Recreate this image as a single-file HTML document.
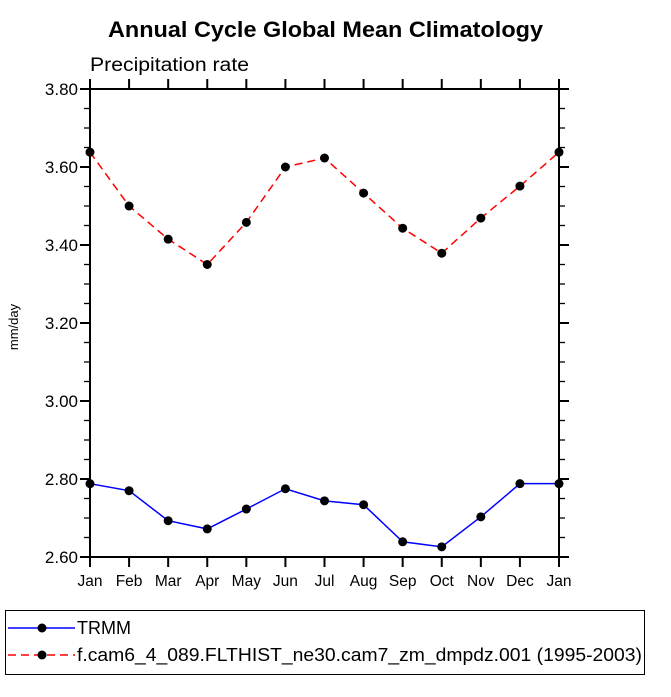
<!DOCTYPE html>
<html><head><meta charset="utf-8"><style>
html,body{margin:0;padding:0;background:#fff;}
svg text{font-family:"Liberation Sans",Helvetica,sans-serif;}
</style></head><body>
<svg id="chart" width="671" height="692" viewBox="0 0 671 692" xmlns="http://www.w3.org/2000/svg">
<text x="108" y="37" font-size="22" font-weight="bold" textLength="435" lengthAdjust="spacingAndGlyphs">Annual Cycle Global Mean Climatology</text>
<text x="90" y="71" font-size="19" textLength="159" lengthAdjust="spacingAndGlyphs">Precipitation rate</text>
<text x="18" y="327" font-size="13" text-anchor="middle" transform="rotate(-90 18 327)">mm/day</text>
<g id="axes"></g>
<g id="series"></g>
<rect x="5.5" y="610.5" width="639" height="64" fill="none" stroke="#000" stroke-width="1"/>
<g>
<line x1="8" y1="628" x2="75" y2="628" stroke="#0000ff" stroke-width="1.5"/>
<circle cx="42" cy="628" r="4.5" fill="#000"/>
<text x="77" y="634" font-size="18" textLength="54" lengthAdjust="spacingAndGlyphs">TRMM</text>
</g>
<g>
<line x1="8" y1="655" x2="75" y2="655" stroke="#ff0000" stroke-width="1.5" stroke-dasharray="8,5"/>
<circle cx="42" cy="655" r="4.5" fill="#000"/>
<text x="77" y="661" font-size="18" textLength="565" lengthAdjust="spacingAndGlyphs">f.cam6_4_089.FLTHIST_ne30.cam7_zm_dmpdz.001 (1995-2003)</text>
</g>
</svg>
<script>
const months = ["Jan","Feb","Mar","Apr","May","Jun","Jul","Aug","Sep","Oct","Nov","Dec","Jan"];
const trmm = [2.788,2.770,2.693,2.672,2.723,2.775,2.744,2.734,2.639,2.626,2.703,2.788,2.788];
const model = [3.638,3.500,3.415,3.350,3.458,3.600,3.623,3.533,3.443,3.379,3.469,3.551,3.638];
const yTicks = [2.6,2.8,3.0,3.2,3.4,3.6,3.8];
const yTickLabels = ["2.60","2.80","3.00","3.20","3.40","3.60","3.80"];

const NS="http://www.w3.org/2000/svg";
const L=90,R=559,T=89,B=557,yMin=2.6,yMax=3.8;
const xs=i=>L+(R-L)*i/(months.length-1);
const ys=v=>B-(v-yMin)/(yMax-yMin)*(B-T);
function mk(tag,attrs,parent){const e=document.createElementNS(NS,tag);for(const k in attrs)e.setAttribute(k,attrs[k]);parent.appendChild(e);return e;}
const ax=document.getElementById('axes');
const frame=mk('rect',{x:L,y:T,width:R-L,height:B-T,fill:'none',stroke:'#000','stroke-width':2},ax);


for(let k=0;k<yTicks.length;k++){
  const y=ys(yTicks[k]);
  const t1=mk('line',{x1:L-10,y1:y,x2:L,y2:y,stroke:'#000','stroke-width':2},ax);
  
  
  mk('line',{x1:R,y1:y,x2:R+10,y2:y,stroke:'#000','stroke-width':2},ax);
  const tx=mk('text',{x:L-12,y:y+6,'text-anchor':'end','font-size':17},ax);
  tx.textContent=yTickLabels[k];
  
  
  if(k<yTicks.length-1){
    for(let m=1;m<4;m++){
      const yy=ys(yTicks[k]+(yTicks[k+1]-yTicks[k])*m/4);
      mk('line',{x1:L-6,y1:yy,x2:L,y2:yy,stroke:'#000','stroke-width':1.3},ax);
      mk('line',{x1:R,y1:yy,x2:R+6,y2:yy,stroke:'#000','stroke-width':1.3},ax);
    }
  }
}
months.forEach((m,i)=>{
  const x=xs(i);
  const t=mk('line',{x1:x,y1:B,x2:x,y2:B+10,stroke:'#000','stroke-width':2},ax);
  
  
  mk('line',{x1:x,y1:T-10,x2:x,y2:T,stroke:'#000','stroke-width':2},ax);
  const tx=mk('text',{x:x,y:B+29,'text-anchor':'middle','font-size':15.5},ax);
  tx.textContent=m;
  
  
});
const sg=document.getElementById('series');
function drawSeries(vals,color,dash,name){
  const g=mk('g',{},sg);
  
  
  const pts=vals.map((v,i)=>xs(i)+','+ys(v)).join(' ');
  const a={points:pts,fill:'none',stroke:color,'stroke-width':1.5};
  if(dash)a['stroke-dasharray']=dash;
  const pl=mk('polyline',a,g);
  
  
  vals.forEach((v,i)=>{
    const c=mk('circle',{cx:xs(i),cy:ys(v),r:4.5,fill:'#000'},g);
    
    
  });
}
drawSeries(model,'#ff0000','8,5','model-series');
drawSeries(trmm,'#0000ff',null,'trmm-series');
</script>
</body></html>
